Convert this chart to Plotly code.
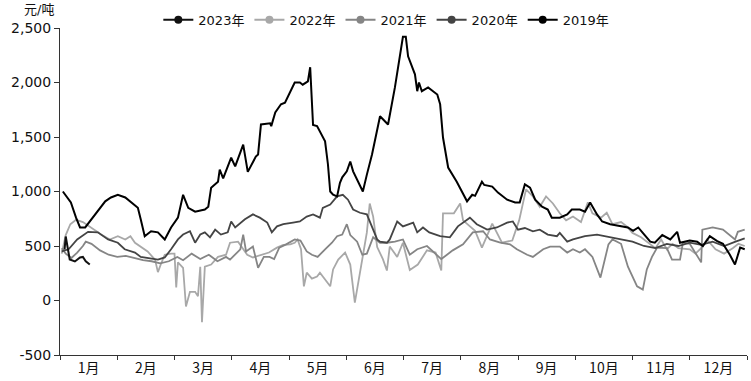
import plotly.graph_objects as go

# x positions are in months from 1 Jan (0 = start of Jan, 12 = end of Dec)
months = ["1月", "2月", "3月", "4月", "5月", "6月", "7月", "8月", "9月", "10月", "11月", "12月"]
years = ["2023年", "2022年", "2021年", "2020年", "2019年"]
colors = {"2023年": "#111111", "2022年": "#a8a8a8", "2021年": "#858585", "2020年": "#444444", "2019年": "#000000"}

x_2023 = [0.08, 0.10, 0.17, 0.26, 0.35, 0.40, 0.45, 0.52]
y_2023 = [468, 587, 376, 358, 394, 400, 360, 330]

x_2019 = [0.05, 0.19, 0.28, 0.35, 0.44, 0.52, 0.61, 0.70, 0.79, 0.89, 1.01, 1.14, 1.36, 1.41, 1.48, 1.59, 1.71, 1.83,
          1.94, 2.06, 2.15, 2.24, 2.36, 2.53, 2.59, 2.64, 2.76, 2.79, 2.85, 2.99, 3.06, 3.20, 3.28, 3.42, 3.46, 3.51,
          3.67, 3.69, 3.76, 3.86, 3.93, 4.10, 4.19, 4.24, 4.33, 4.37, 4.42, 4.49, 4.63, 4.68, 4.72, 4.77, 4.84, 4.89,
          4.93, 5.01, 5.07, 5.12, 5.21, 5.29, 5.36, 5.45, 5.59, 5.73, 5.85, 5.94, 5.99, 6.04, 6.08, 6.20, 6.24, 6.27,
          6.32, 6.43, 6.59, 6.64, 6.69, 6.78, 6.93, 7.11, 7.20, 7.25, 7.37, 7.41, 7.55, 7.65, 7.81, 7.95, 8.03, 8.12,
          8.21, 8.30, 8.42, 8.52, 8.59, 8.73, 8.86, 8.94, 9.08, 9.17, 9.26, 9.38, 9.47, 9.61, 9.78, 9.92, 10.01, 10.10,
          10.18, 10.31, 10.39, 10.52, 10.66, 10.78, 10.83, 11.00, 11.13, 11.23, 11.35, 11.48, 11.58, 11.70, 11.79,
          11.88, 11.96]
y_2019 = [1000, 900, 760, 670, 670, 725, 790, 850, 910, 945, 970, 945, 850, 745, 590, 635, 625, 560,
          670, 760, 970, 850, 815, 835, 860, 1035, 1090, 1200, 1120, 1310, 1230, 1430, 1180, 1320, 1340, 1615,
          1625, 1600, 1725, 1800, 1815, 2000, 2000, 1980, 2010, 2140, 1610, 1600, 1460, 1250, 1000, 970, 955, 1080,
          1130, 1185, 1275, 1185, 1090, 1000, 1155, 1340, 1690, 1615, 1955, 2285, 2420, 2420, 2240, 2075, 1920, 2000,
          1920, 1955, 1890, 1800, 1495, 1220, 1090, 910, 970, 960, 1090, 1060, 1045, 990, 925, 900, 900, 1065,
          1035, 925, 860, 835, 760, 760, 790, 835, 835, 815, 900, 790, 725, 700, 680, 670, 640, 670,
          620, 540, 530, 600, 560, 630, 530, 550, 540, 500, 590, 545, 520, 420, 330,
          485, 470]

x_2020 = [0.03, 0.15, 0.30, 0.49, 0.66, 0.84, 1.01, 1.13, 1.31, 1.41, 1.71, 1.83, 1.94, 2.06, 2.15, 2.27, 2.36, 2.45,
          2.53, 2.62, 2.71, 2.81, 2.93, 2.99, 3.06, 3.23, 3.37, 3.49, 3.62, 3.70, 3.79, 3.90, 4.07, 4.19, 4.31, 4.42,
          4.54, 4.59, 4.72, 4.84, 4.94, 5.03, 5.12, 5.24, 5.36, 5.41, 5.47, 5.54, 5.59, 5.71, 5.76, 5.89, 5.99, 6.11,
          6.17, 6.24, 6.34, 6.45, 6.64, 6.81, 6.95, 7.16, 7.28, 7.46, 7.63, 7.81, 7.91, 8.00, 8.12, 8.26, 8.38, 8.52,
          8.68, 8.73, 8.86, 8.96, 9.08, 9.17, 9.38, 9.61, 9.78, 10.00, 10.20, 10.40, 10.60, 10.80, 11.00, 11.20,
          11.40, 11.60, 11.80, 11.96]
y_2020 = [450, 470, 560, 630, 625, 560, 530, 470, 440, 400, 375, 395, 470, 560, 605, 635, 530, 605,
          625, 580, 650, 605, 625, 725, 670, 745, 790, 760, 715, 625, 680, 700, 715, 725, 770, 790,
          760, 850, 880, 955, 970, 925, 835, 805, 790, 725, 635, 560, 540, 530, 560, 725, 680, 700,
          715, 625, 670, 625, 590, 580, 680, 760, 700, 650, 670, 715, 725, 650, 665, 635, 650, 605,
          590, 620, 540, 560, 580, 590, 605, 580, 560, 540, 500, 480, 520, 500, 530, 510,
          540, 500, 540, 570]

x_2021 = [0.03, 0.10, 0.20, 0.30, 0.40, 0.45, 0.55, 0.70, 0.85, 1.00, 1.15, 1.30, 1.45, 1.60, 1.75, 1.90, 2.05, 2.15,
          2.30, 2.45, 2.60, 2.75, 2.90, 2.97, 3.15, 3.20, 3.25, 3.37, 3.46, 3.56, 3.66, 3.74, 3.83, 3.95, 4.10, 4.20,
          4.31, 4.40, 4.50, 4.63, 4.75, 4.84, 4.93, 5.01, 5.07, 5.19, 5.24, 5.28, 5.36, 5.41, 5.47, 5.59, 5.71, 5.85,
          5.99, 6.11, 6.24, 6.41, 6.66, 6.86, 7.04, 7.21, 7.39, 7.51, 7.69, 7.86, 7.98, 8.16, 8.26, 8.44, 8.56, 8.73,
          8.86, 8.96, 9.08, 9.17, 9.30, 9.44, 9.58, 9.65, 9.80, 9.92, 10.08, 10.18, 10.25, 10.34, 10.43, 10.60, 10.69,
          10.83, 10.88, 11.00, 11.20, 11.22, 11.40, 11.58, 11.79, 11.84, 11.96]
y_2021 = [480, 430, 390, 440, 500, 540, 520, 460, 420, 400, 410, 390, 370, 360, 340, 360, 400, 370,
          430, 380, 420, 360, 400, 375, 470, 605, 450, 495, 300, 400, 400, 380, 485, 515, 560, 550,
          450, 420, 400, 470, 530, 590, 605, 700, 600, 540, 470, 420, 430, 500, 580, 530, 530, 540,
          560, 420, 470, 500, 380, 460, 515, 625, 635, 560, 530, 515, 470, 420, 400, 470, 495, 495,
          440, 470, 440, 470, 400, 210, 515, 560, 520, 310, 130, 100, 285, 400, 485, 480, 375,
          375, 530, 520, 350, 650, 670, 650, 560, 630, 650]

x_2022 = [0.03, 0.10, 0.18, 0.28, 0.40, 0.54, 0.72, 0.87, 1.01, 1.14, 1.23, 1.31, 1.40, 1.53, 1.66, 1.71, 1.76, 1.83,
          1.94, 2.00, 2.03, 2.06, 2.15, 2.20, 2.27, 2.36, 2.41, 2.45, 2.48, 2.53, 2.64, 2.76, 2.90, 2.97, 3.11, 3.20,
          3.27, 3.37, 3.55, 3.65, 3.79, 3.90, 4.02, 4.10, 4.15, 4.21, 4.26, 4.31, 4.40, 4.49, 4.54, 4.72, 4.77, 4.86,
          4.98, 5.07, 5.15, 5.21, 5.28, 5.36, 5.41, 5.47, 5.54, 5.64, 5.71, 5.76, 5.89, 5.99, 6.11, 6.25, 6.41, 6.56,
          6.66, 6.69, 6.88, 6.99, 7.04, 7.25, 7.37, 7.55, 7.72, 7.90, 8.02, 8.14, 8.26, 8.38, 8.49, 8.61, 8.73, 8.84,
          8.96, 9.10, 9.22, 9.30, 9.45, 9.55, 9.65, 9.80, 9.90, 10.00, 10.15, 10.30, 10.40, 10.50, 10.60, 10.70,
          10.80, 11.00, 11.10, 11.20, 11.30, 11.45, 11.60, 11.75, 11.85, 11.96]
y_2022 = [430, 600, 700, 740, 720, 670, 605, 560, 590, 560, 590, 530, 500, 450, 375, 260, 330, 420,
          430, 430, 120, 350, 300, -55, 80, 80, 40, 310, -200, 310, 330, 400, 420, 530, 540, 470,
          420, 395, 420, 440, 485, 510, 515, 530, 560, 470, 130, 255, 200, 220, 255, 130, 285, 375,
          440, 330, -20, 165, 375, 625, 890, 770, 490, 380, 275, 495, 400, 530, 280, 330, 460, 440,
          275, 800, 800, 890, 735, 640, 485, 705, 530, 550, 735, 1020, 955, 860, 955, 890, 800, 735,
          770, 720, 900, 800, 760, 805, 700, 720, 680, 620, 580, 520, 480, 560, 470, 520,
          480, 470, 430, 480, 560, 470, 430, 480, 520, 500]

y_tickvals = [-500, 0, 500, 1000, 1500, 2000, 2500]
y_ticktext = ["-500", "0", "500", "1,000", "1,500", "2,000", "2,500"]

series = {
    "2022年": (x_2022, y_2022, 1.8),
    "2021年": (x_2021, y_2021, 1.8),
    "2020年": (x_2020, y_2020, 1.8),
    "2019年": (x_2019, y_2019, 2.0),
    "2023年": (x_2023, y_2023, 2.0),
}

fig = go.Figure()
for name, (xs, ys, w) in series.items():
    fig.add_trace(go.Scatter(x=xs, y=ys, mode="lines", name=name, showlegend=False,
                             line=dict(color=colors[name], width=w)))
# legend entries in original order
for name in years:
    fig.add_trace(go.Scatter(x=[None], y=[None], mode="lines+markers", name=name,
                             line=dict(color=colors[name], width=2),
                             marker=dict(color=colors[name], size=8, symbol="circle")))

font_family = "DejaVu Sans, Noto Sans CJK SC, sans-serif"
fig.update_layout(
    width=751, height=381,
    margin=dict(l=60, r=4, t=28, b=26, autoexpand=False),
    paper_bgcolor="white", plot_bgcolor="white",
    font=dict(family=font_family, size=13, color="#111"),
    legend=dict(orientation="h", x=0.475, xanchor="center", y=1.025, yanchor="middle",
                font=dict(size=13, family=font_family), itemwidth=30,
                bgcolor="rgba(0,0,0,0)", tracegroupgap=0),
    annotations=[dict(text="元/吨", xref="paper", yref="paper", x=-0.03, y=1.058,
                      xanchor="center", yanchor="middle", showarrow=False,
                      font=dict(size=13, family=font_family, color="#111"))],
)
fig.update_xaxes(range=[0, 12], showgrid=False, zeroline=False, showline=True,
                 linecolor="#333", linewidth=1,
                 tickmode="array", tickvals=[i + 0.5 for i in range(12)], ticktext=months,
                 ticks="", tickfont=dict(size=14, family="Noto Sans CJK SC"),
                 minor=dict(tickmode="array", tickvals=list(range(13)), ticks="outside",
                            ticklen=4, tickcolor="#333", showgrid=False))
fig.update_yaxes(range=[-500, 2500], showgrid=False, zeroline=False, showline=True,
                 linecolor="#333", linewidth=1,
                 tickmode="array", tickvals=y_tickvals, ticktext=y_ticktext,
                 ticks="outside", ticklen=5, tickcolor="#333",
                 tickfont=dict(size=14, family=font_family))

fig.write_html("out.html", config={"displayModeBar": False},
               post_script="document.body.style.margin='0';document.body.style.overflow='hidden';")
